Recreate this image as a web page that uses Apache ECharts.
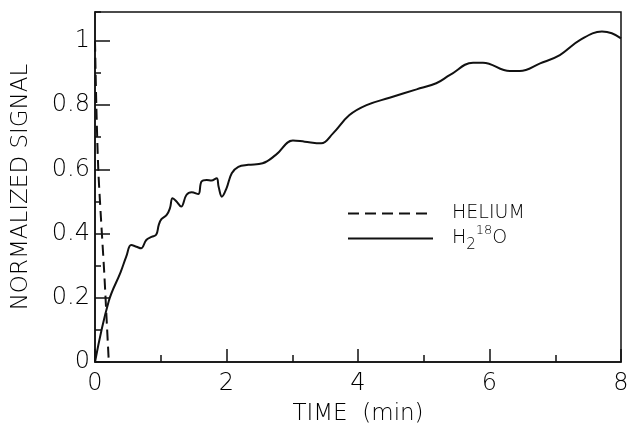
<!DOCTYPE html>
<html>
<head>
<meta charset="utf-8">
<script src="https://cdn.jsdelivr.net/npm/echarts@6/dist/echarts.min.js"></script>
<style>html,body{margin:0;padding:0;background:#fff;}#c{width:630px;height:424px;}</style>
</head>
<body>
<div id="c"></div>
<script>
// H2 18O signal (time in min, normalized signal)
const waterTime = [0, 0.21, 0.39, 0.475, 0.55, 0.63, 0.70, 0.78, 0.86, 0.93, 0.97, 1.01, 1.09, 1.14, 1.18, 1.24, 1.31, 1.39, 1.47, 1.57, 1.62, 1.70, 1.77, 1.85, 1.88, 1.93, 2.0, 2.08, 2.18, 2.33, 2.55, 2.75, 3.01, 3.19, 3.44, 3.62, 3.87, 4.13, 4.48, 4.89, 5.19, 5.40, 5.75, 5.90, 6.31, 6.46, 6.77, 7.07, 7.38, 7.71, 7.86, 8.0];
const waterSignal = [0, 0.19, 0.28, 0.328, 0.364, 0.359, 0.354, 0.38, 0.39, 0.396, 0.427, 0.445, 0.458, 0.479, 0.51, 0.50, 0.484, 0.52, 0.529, 0.523, 0.562, 0.567, 0.565, 0.572, 0.546, 0.515, 0.541, 0.588, 0.608, 0.614, 0.619, 0.645, 0.69, 0.686, 0.681, 0.712, 0.769, 0.80, 0.823, 0.849, 0.868, 0.894, 0.932, 0.932, 0.906, 0.906, 0.93, 0.956, 1.003, 1.029, 1.024, 1.008];
// Helium signal
const heliumTime = [0, 0.02, 0.05, 0.09, 0.14, 0.18, 0.21];
const heliumSignal = [1.0, 0.8, 0.6, 0.45, 0.28, 0.12, 0];
const xTicks = [0, 2, 4, 6, 8];
const yTicks = [0, 0.2, 0.4, 0.6, 0.8, 1];
const seriesNames = ['HELIUM', 'H{sub|2}{sup|18}O'];

const FONT = 'DejaVu Sans';
const FW = 200;
const chart = echarts.init(document.getElementById('c'), null, {renderer: 'canvas'});
const zip = (a, b) => a.map((v, i) => [v, b[i]]);

chart.setOption({
  animation: false,
  backgroundColor: '#fff',
  textStyle: {fontFamily: FONT, color: '#000', fontWeight: FW},
  grid: {left: 95, right: 9, top: 12, bottom: 62, show: true, borderColor: '#111', borderWidth: 1.5,
         containLabel: false, outerBoundsMode: 'none'},
  legend: [
    {data: ['HELIUM'], left: 347, top: 204, itemWidth: 85, itemHeight: 14, padding: 0,
     itemStyle: {opacity: 0},
     textStyle: {fontFamily: FONT, fontWeight: FW, fontSize: 19, color: '#000', padding: [0, 0, 0, 14]}},
    {data: ['H2O18'], left: 347, top: 224, itemWidth: 85, itemHeight: 14, padding: 0,
     itemStyle: {opacity: 0},
     formatter: () => seriesNames[1],
     textStyle: {fontFamily: FONT, fontWeight: FW, fontSize: 19, color: '#000', padding: [0, 0, 0, 14],
       rich: {
         sub: {fontSize: 15, fontFamily: FONT, fontWeight: FW, color: '#000', verticalAlign: 'bottom', padding: [14, 0, 0, 0]},
         sup: {fontSize: 13, fontFamily: FONT, fontWeight: FW, color: '#000', verticalAlign: 'top', padding: [0, 0, 10, 0]}
       }}}
  ],
  xAxis: {
    type: 'value', min: xTicks[0], max: xTicks[xTicks.length - 1], interval: 2,
    name: 'TIME  (min)', nameLocation: 'middle', nameGap: 41,
    nameTextStyle: {fontFamily: FONT, fontWeight: FW, fontSize: 23, color: '#000'},
    axisLine: {lineStyle: {color: '#111', width: 1.5}},
    axisTick: {inside: true, length: 13, lineStyle: {color: '#111', width: 1.5}},
    minorTick: {show: true, splitNumber: 2, length: 7, lineStyle: {color: '#111', width: 1.5}},
    splitLine: {show: false},
    axisLabel: {fontFamily: FONT, fontWeight: FW, fontSize: 24, color: '#000', margin: 10}
  },
  yAxis: [
    {
      type: 'value', min: yTicks[0], max: 1.09, interval: 0.2,
      name: 'NORMALIZED SIGNAL', nameLocation: 'middle', nameGap: 62,
      nameTextStyle: {fontFamily: FONT, fontWeight: FW, fontSize: 23, color: '#000'},
      axisLine: {lineStyle: {color: '#111', width: 1.5}},
      axisTick: {inside: true, length: 15, lineStyle: {color: '#111', width: 1.5}},
      splitLine: {show: false},
      axisLabel: {fontFamily: FONT, fontWeight: FW, fontSize: 24, color: '#000', margin: 5, showMaxLabel: false,
        formatter: v => (yTicks.indexOf(Math.round(v * 10) / 10) >= 0 ? String(Math.round(v * 10) / 10) : '')}
    },
    {
      type: 'value', position: 'left', min: 0, max: 1.09, interval: 0.1,
      axisLine: {show: false},
      axisTick: {inside: true, length: 6, lineStyle: {color: '#111', width: 1.5}},
      axisLabel: {show: false}, splitLine: {show: false}
    }
  ],
  series: [
    {name: 'HELIUM', type: 'line', data: zip(heliumTime, heliumSignal), smooth: 0.3, symbol: 'none',
     lineStyle: {color: '#111', width: 2, type: [11, 6]}, itemStyle: {color: '#111'}},
    {name: 'H2O18', type: 'line', data: zip(waterTime, waterSignal), smooth: 0.4, symbol: 'none',
     lineStyle: {color: '#111', width: 2}, itemStyle: {color: '#111'}}
  ]
});
</script>
</body>
</html>
